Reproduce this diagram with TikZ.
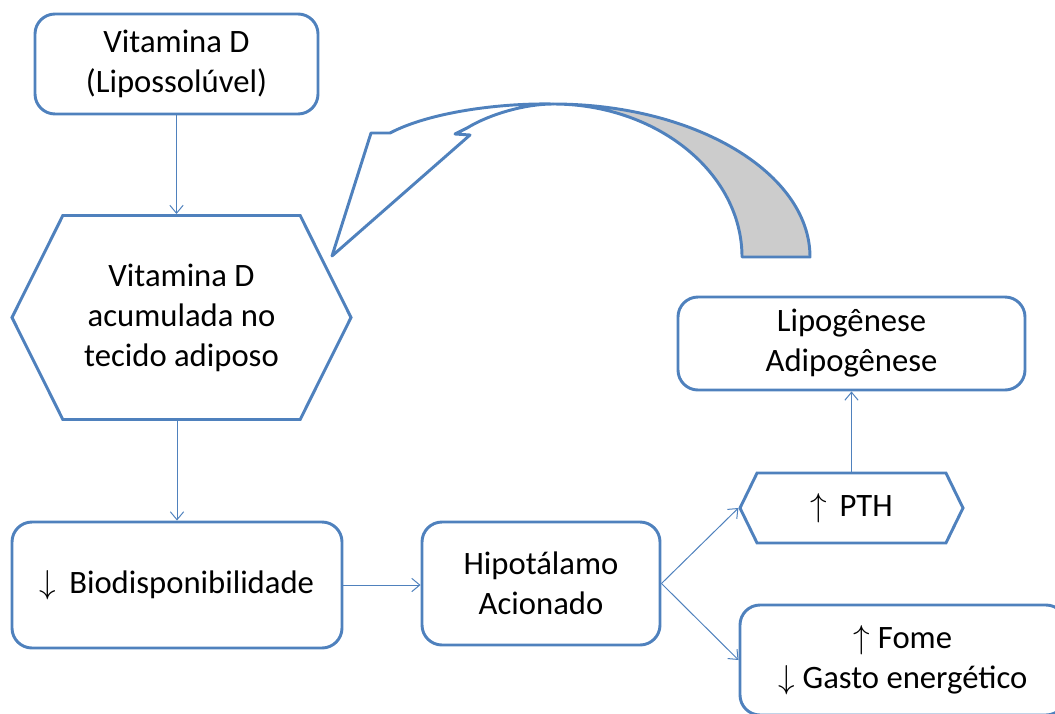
\documentclass[tikz,border=0pt]{standalone}
\usepackage{fontspec}
\setmainfont{Carlito}
\usetikzlibrary{arrows.meta,shapes.symbols}
\definecolor{boxblue}{RGB}{79,129,189}
\tikzset{
  caixa/.style={draw=boxblue, line width=2.2pt, rounded corners=15pt, align=center, inner sep=0pt},
  hexa/.style={draw=boxblue, line width=2.2pt, shape=signal, signal to=west and east, align=center, inner sep=0pt},
  seta/.style={draw=boxblue, line width=0.75pt, -{Straight Barb[length=6pt,width=10pt]}},
}

\begin{document}
\begin{tikzpicture}[x=0.75pt, y=-0.75pt, font=\fontsize{24.5}{30}\selectfont]
	%%%%% START %%%%%
	\useasboundingbox (0,0) rectangle (1055,713);
	\clip (0,0) rectangle (1055,713);

	\node[caixa, minimum width=212.25pt, minimum height=75pt] (vitd) at (176.5,64) {Vitamina D\\(Lipossolúvel)};
	\node[hexa, signal pointer angle=127, minimum width=254.25pt, minimum height=153pt] (acum) at (181.5,317.5) {Vitamina D\\acumulada no\\tecido adiposo};
	\node[caixa, minimum width=247.5pt, minimum height=94.5pt] (bio) at (177,585) {$\downarrow$\, Biodisponibilidade};
	\node[caixa, minimum width=178.5pt, minimum height=92.25pt] (hipo) at (541,583.5) {Hipotálamo\\Acionado};
	\node[hexa, signal pointer angle=128, minimum width=167.25pt, minimum height=52.5pt] (pth) at (851.5,508) {$\uparrow$\, PTH};
	\node[caixa, minimum width=260.25pt, minimum height=69.75pt] (lipo) at (851.5,343.5) {Lipogênese\\Adipogênese};
	\node[caixa, minimum width=244.5pt, minimum height=82.5pt] (fome) at (903,660) {$\uparrow$ Fome\\$\downarrow$ Gasto energético};

	\draw[seta] (vitd.south) -- (vitd.south |- acum.north);
	\draw[seta] (bio.north |- acum.south) -- (bio.north);
	\draw[seta] (bio.east) -- (bio.east -| hipo.west);
	\draw[seta] (hipo.east) -- (pth.west);
	\draw[seta] (hipo.east) -- (fome.west);
	\draw[seta] (pth.north) -- (lipo.south);

	% seta curva
	\draw[boxblue, line width=2.2pt, fill=gray!40, line join=round]
		(553,104) .. controls (695,104) and (810,173) .. (810,257) -- (742,257)
		.. controls (742,173) and (657,104) .. (553,104) -- cycle;
	\draw[boxblue, line width=2.2pt, fill=white, line join=round]
		(553,104) .. controls (525,104) and (490,114) .. (467,128) -- (455,134) -- (470,135)
		-- (332,256) -- (371,133) -- (390,133)
		.. controls (430,112) and (500,103) .. (553,104) -- cycle;
	%%%%% END %%%%%
\end{tikzpicture}
\end{document}
